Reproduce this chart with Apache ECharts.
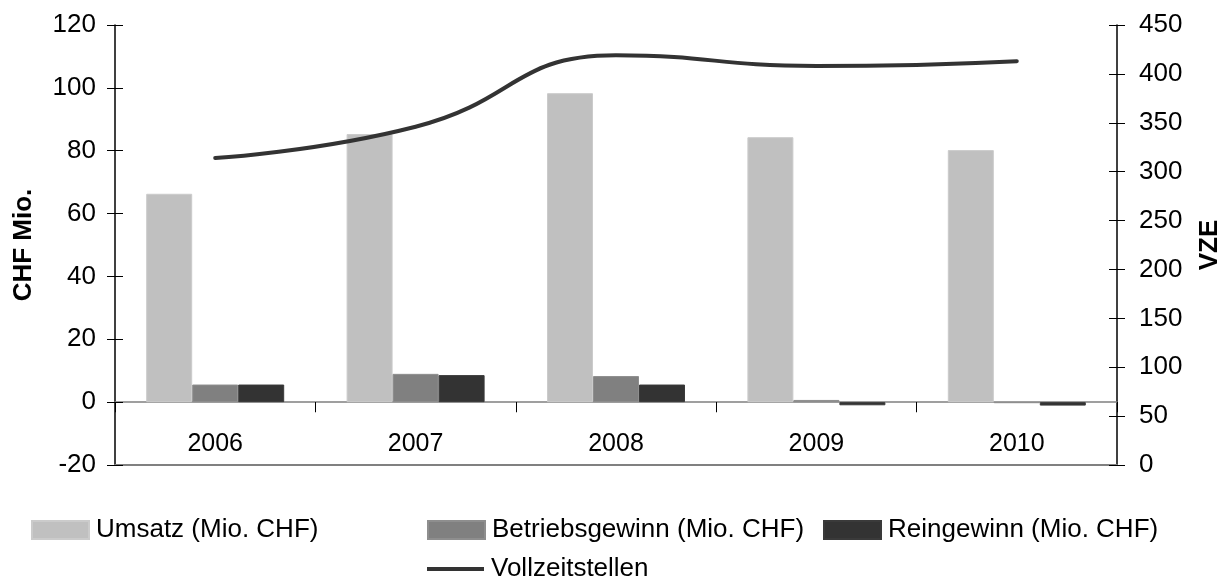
<!DOCTYPE html>
<html>
<head>
<meta charset="utf-8">
<script src="https://cdn.jsdelivr.net/npm/echarts@6/dist/echarts.min.js"></script>
<style>
html,body{margin:0;padding:0;background:#fff;}
#chart{width:1220px;height:579px;}
</style>
</head>
<body>
<div id="chart"></div>
<script>
const years = ['2006', '2007', '2008', '2009', '2010'];
const umsatz = [66.3, 85.3, 98.3, 84.3, 80.2];
const betriebsgewinn = [5.6, 9.0, 8.3, 0.7, -0.3];
const reingewinn = [5.6, 8.6, 5.6, -1.0, -1.1];
const vollzeitstellen = [314, 346, 419, 408, 413];

const leftTicks = {min: -20, max: 120, interval: 20};
const rightTicks = {min: 0, max: 450, interval: 50};

const FONT = '"Liberation Sans", Arial, sans-serif';
const FS = 25;
const FS_Y = 26;
const FS_LEG = 26;

const chart = echarts.init(document.getElementById('chart'), null, {renderer: 'canvas'});

const legendText = {fontFamily: FONT, fontSize: FS_LEG, color: '#000', padding: [0, 0, 0, 2]};
const legBase = {itemWidth: 57, itemHeight: 18, icon: 'rect', itemGap: 0, padding: 0, textStyle: legendText, selectedMode: false};

const option = {
  animation: false,
  backgroundColor: '#fff',
  textStyle: {fontFamily: FONT},
  grid: {left: 115, right: 103, top: 25, bottom: 114, containLabel: false, outerBoundsMode: 'none'},
  legend: [
    Object.assign({}, legBase, {data: ['Umsatz (Mio. CHF)'], left: 31, top: 517}),
    Object.assign({}, legBase, {data: ['Betriebsgewinn (Mio. CHF)'], left: 427, top: 517}),
    Object.assign({}, legBase, {data: ['Reingewinn (Mio. CHF)'], left: 823, top: 517}),
    Object.assign({}, legBase, {data: ['Vollzeitstellen'], left: 427, top: 556, itemHeight: 4, itemStyle: {color: '#333333'}})
  ],
  xAxis: [
    {
      type: 'category', data: years, boundaryGap: true,
      axisLine: {show: true, onZero: true, onZeroAxisIndex: 0, lineStyle: {color: '#808080', width: 1.5}},
      axisTick: {show: true, interval: 0, length: 10, inside: false, lineStyle: {color: '#000', width: 1}},
      axisLabel: {show: false},
      splitLine: {show: false}
    },
    {
      type: 'category', data: years, position: 'bottom',
      axisLine: {show: true, onZero: false, lineStyle: {color: '#808080', width: 2}},
      axisTick: {show: false},
      axisLabel: {show: true, inside: true, interval: 0, margin: 8, fontFamily: FONT, fontSize: FS, color: '#000'},
      splitLine: {show: false}
    },
    {
      type: 'category', data: years,
      axisLine: {show: true, onZero: true, onZeroAxisIndex: 0, lineStyle: {color: 'rgba(0,0,0,0)', width: 0}},
      axisTick: {show: true, interval: 0, length: 10, inside: true, lineStyle: {color: '#000', width: 1}},
      axisLabel: {show: false}, splitLine: {show: false}
    }
  ],
  yAxis: [
    {
      type: 'value', position: 'left', min: leftTicks.min, max: leftTicks.max, interval: leftTicks.interval,
      name: 'CHF Mio.', nameLocation: 'middle', nameRotate: 90, nameGap: 78,
      nameTextStyle: {fontFamily: FONT, fontSize: FS_Y, fontWeight: 'bold', color: '#000'},
      axisLine: {show: true, onZero: false, lineStyle: {color: '#000', width: 1.5}},
      axisTick: {show: true, length: 8, lineStyle: {color: '#000', width: 1}},
      axisLabel: {margin: 19, fontFamily: FONT, fontSize: FS_Y, color: '#000'},
      splitLine: {show: false}
    },
    {
      type: 'value', position: 'right', min: rightTicks.min, max: rightTicks.max, interval: rightTicks.interval,
      name: 'VZE', nameLocation: 'middle', nameRotate: 90, nameGap: 80,
      nameTextStyle: {fontFamily: FONT, fontSize: FS_Y, fontWeight: 'bold', color: '#000'},
      axisLine: {show: true, onZero: false, lineStyle: {color: '#000', width: 1.5}},
      axisTick: {show: true, length: 8, lineStyle: {color: '#000', width: 1}},
      axisLabel: {margin: 22, fontFamily: FONT, fontSize: FS_Y, color: '#000'},
      splitLine: {show: false}
    },
    {
      type: 'value', position: 'left', min: leftTicks.min, max: leftTicks.max, interval: leftTicks.interval,
      axisLine: {show: false, onZero: false},
      axisTick: {show: true, inside: true, length: 8, lineStyle: {color: '#000', width: 1}},
      axisLabel: {show: false}, splitLine: {show: false}
    },
    {
      type: 'value', position: 'right', min: rightTicks.min, max: rightTicks.max, interval: rightTicks.interval,
      axisLine: {show: false, onZero: false},
      axisTick: {show: true, inside: true, length: 8, lineStyle: {color: '#000', width: 1}},
      axisLabel: {show: false}, splitLine: {show: false}
    }
  ],
  series: [
    {
      name: 'Umsatz (Mio. CHF)', type: 'bar', data: umsatz, xAxisIndex: 0, yAxisIndex: 0,
      barWidth: 46, barGap: '0%',
      itemStyle: {color: '#c0c0c0', borderColor: '#cbcbcb', borderWidth: 1}
    },
    {
      name: 'Betriebsgewinn (Mio. CHF)', type: 'bar', data: betriebsgewinn, xAxisIndex: 0, yAxisIndex: 0,
      barWidth: 46, barGap: '0%',
      itemStyle: {color: '#808080', borderColor: '#8e8e8e', borderWidth: 1}
    },
    {
      name: 'Reingewinn (Mio. CHF)', type: 'bar', data: reingewinn, xAxisIndex: 0, yAxisIndex: 0,
      barWidth: 46, barGap: '0%',
      itemStyle: {color: '#333333', borderColor: '#3a3a3a', borderWidth: 1}
    },
    {
      name: 'Vollzeitstellen', type: 'line', data: vollzeitstellen, xAxisIndex: 0, yAxisIndex: 1,
      smooth: 0.5, showSymbol: false, symbol: 'none',
      lineStyle: {color: '#333333', width: 4, cap: 'round', join: 'round'},
      itemStyle: {color: '#333333'}, z: 5
    }
  ]
};

chart.setOption(option);
</script>
</body>
</html>
